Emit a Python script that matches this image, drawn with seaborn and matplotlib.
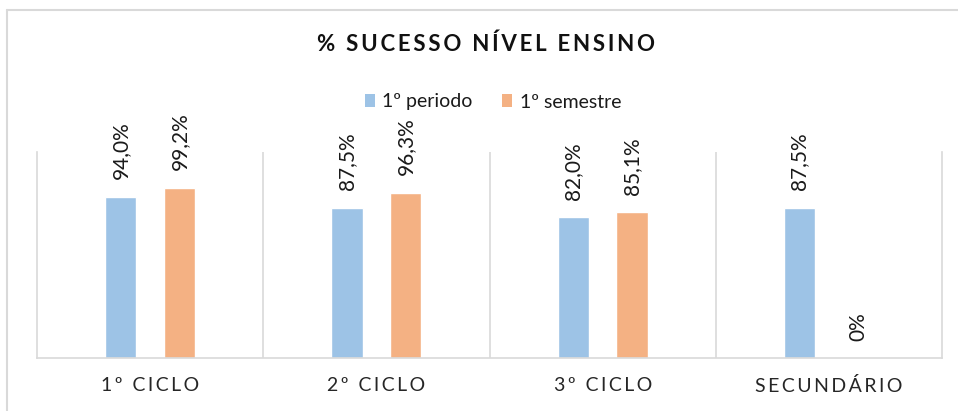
import matplotlib
matplotlib.use("Agg")
import matplotlib.pyplot as plt
from matplotlib.lines import Line2D
from matplotlib.patches import Patch
import seaborn as sns
import pandas as pd

# Success rate by teaching level, two reporting periods
niveis = ["1º CICLO", "2º CICLO", "3º CICLO", "SECUNDÁRIO"]
periodo_1 = [94.0, 87.5, 82.0, 87.5]
semestre_1 = [99.2, 96.3, 85.1, 0.0]
series = ["1º periodo", "1º semestre"]

AZUL = "#9DC3E6"
LARANJA = "#F4B183"
CINZA = "#D9D9D9"

sns.set_theme(style="white")
plt.rcParams["font.family"] = ["Lato", "DejaVu Sans"]

df = pd.DataFrame({
    "nivel": niveis * 2,
    "valor": periodo_1 + semestre_1,
    "serie": [series[0]] * len(niveis) + [series[1]] * len(niveis),
})


def espacado(texto, sep="\u2009"):
    return sep.join(texto)


fig = plt.figure(figsize=(9.58, 4.11), dpi=100)
ax = fig.add_axes([37 / 958, 1 - 358 / 411, (942 - 37) / 958, (358 - 152) / 411])

sns.barplot(data=df, x="nivel", y="valor", hue="serie", order=niveis,
            hue_order=series, palette=[AZUL, LARANJA], width=0.52, gap=0.47,
            saturation=1, legend=False, ax=ax)

ax.set_ylim(0, 120.0)
ax.set_xlim(-0.5, len(niveis) - 0.5)
ax.set_xlabel("")
ax.set_ylabel("")
ax.set_yticks([])

ax.set_xticks(range(len(niveis)))
ax.set_xticklabels([espacado(n) for n in niveis], fontsize=14, color="#262626")
ax.tick_params(axis="x", length=0, pad=14)

ax.spines["top"].set_visible(False)
for lado in ["left", "right", "bottom"]:
    ax.spines[lado].set_color(CINZA)
    ax.spines[lado].set_linewidth(1.2)
for xs in [0.5, 1.5, 2.5]:
    ax.axvline(xs, color=CINZA, lw=1.2, zorder=0)


def rotulo(v):
    if v == 0:
        return "0%"
    return f"{v:.1f}".replace(".", ",") + "%"


for cont, vals in zip(ax.containers, [periodo_1, semestre_1]):
    ax.bar_label(cont, labels=[rotulo(v) for v in vals], rotation=90,
                 padding=12.5, fontsize=15, color="#1a1a1a")

fig.text(486 / 958, 1 - 44 / 411, espacado("% SUCESSO NÍVEL ENSINO"),
         ha="center", va="center", fontsize=16, fontweight="bold", color="#111111")

handles = [Patch(facecolor=AZUL, edgecolor="none"),
           Patch(facecolor=LARANJA, edgecolor="none")]
fig.legend(handles, series, loc="center", bbox_to_anchor=(493 / 958, 1 - 102 / 411),
           ncol=2, frameon=False, fontsize=14, handlelength=0.5, handleheight=0.7,
           handletextpad=0.4, columnspacing=1.5, labelcolor="#1a1a1a")

# chart area border
fig.add_artist(Line2D([7 / 958, 1.0], [1 - 10 / 411, 1 - 10 / 411],
                      color=CINZA, lw=1.5, transform=fig.transFigure))
fig.add_artist(Line2D([7 / 958, 7 / 958], [1 - 10 / 411, 0.0],
                      color=CINZA, lw=1.5, transform=fig.transFigure))

fig.savefig("out.png", dpi=100, facecolor="white")
